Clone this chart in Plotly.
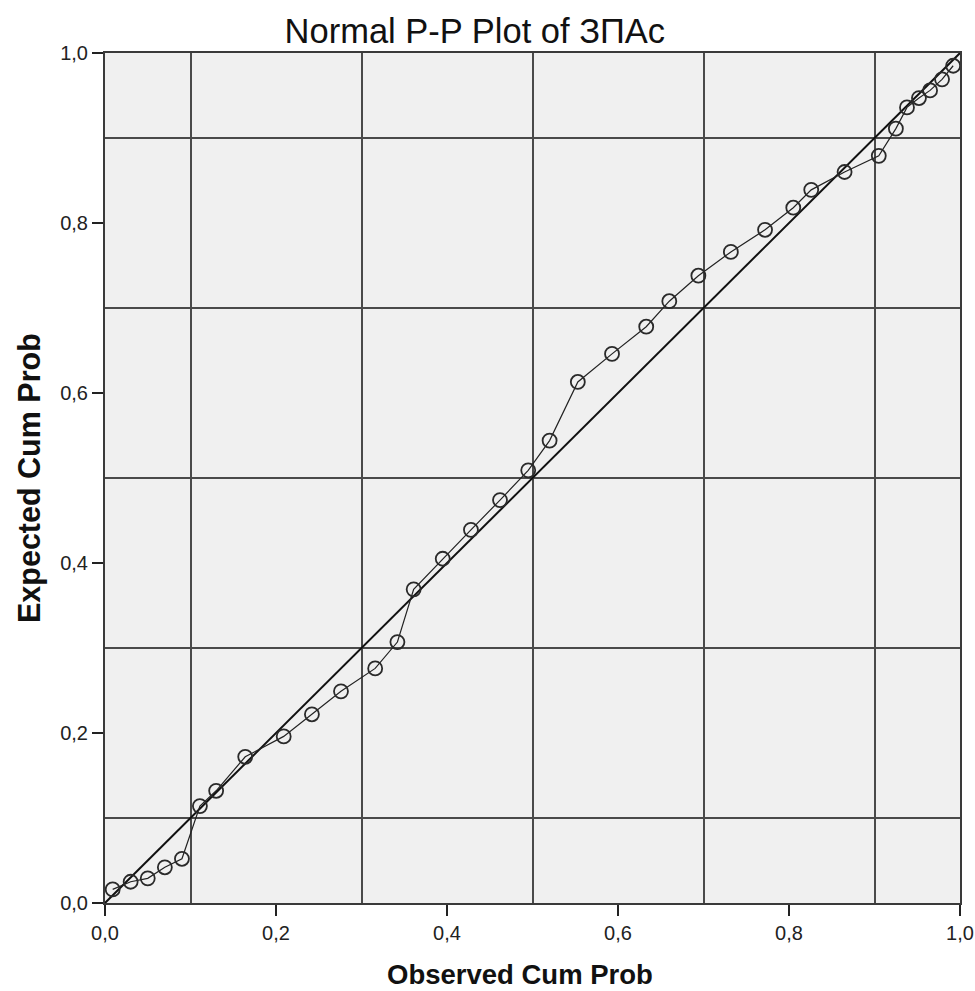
import plotly.graph_objects as go

observed = [0.009, 0.030, 0.050, 0.070, 0.090, 0.111, 0.130, 0.164, 0.209, 0.242,
            0.276, 0.316, 0.342, 0.361, 0.395, 0.428, 0.462, 0.495, 0.520, 0.553,
            0.593, 0.633, 0.660, 0.694, 0.732, 0.772, 0.805, 0.826, 0.865, 0.905,
            0.925, 0.938, 0.952, 0.965, 0.979, 0.992]
expected = [0.016, 0.025, 0.029, 0.042, 0.052, 0.114, 0.132, 0.172, 0.196, 0.222,
            0.249, 0.276, 0.307, 0.369, 0.405, 0.439, 0.474, 0.509, 0.544, 0.613,
            0.646, 0.678, 0.708, 0.738, 0.766, 0.792, 0.818, 0.839, 0.860, 0.879,
            0.911, 0.936, 0.947, 0.956, 0.969, 0.985]
ref_line = [0.0, 1.0]
tick_vals = [0.0, 0.2, 0.4, 0.6, 0.8, 1.0]

FONT = "Liberation Sans, Arial, sans-serif"

fig = go.Figure()
fig.add_trace(go.Scatter(x=ref_line, y=ref_line, mode="lines",
                         line=dict(color="#111111", width=2), hoverinfo="skip"))
fig.add_trace(go.Scatter(x=observed, y=expected, mode="lines+markers",
                         line=dict(color="#222222", width=1.2),
                         marker=dict(symbol="circle-open", size=14,
                                     color="#2a2a2a", line=dict(width=1.8))))

axis_common = dict(
    range=[0, 1], tickvals=tick_vals, tickformat=".1f",
    ticks="outside", ticklen=11, tickwidth=2, tickcolor="#222",
    showgrid=False, zeroline=False, automargin=False,
    showline=True, linecolor="#3a3a3a", linewidth=2, mirror=True,
    tickfont=dict(family=FONT, size=20, color="#222"),
    minor=dict(tick0=0.1, dtick=0.2, showgrid=True, gridcolor="#4a4a4a",
               gridwidth=2, ticks=""),
)

fig.update_layout(
    width=975, height=991,
    margin=dict(l=105, r=15, t=53, b=88, autoexpand=False),
    paper_bgcolor="white", plot_bgcolor="#f0f0f0",
    showlegend=False, separators=",.",
    font=dict(family=FONT, color="#111"),
    title=dict(text="Normal P-P Plot of ЗПАс", x=0.487, xanchor="center",
               xref="container", yref="container",
               y=1 - 31 / 991, yanchor="middle",
               font=dict(size=34.5, color="#111")),
    xaxis=dict(**axis_common),
    yaxis=dict(**axis_common),
    annotations=[
        dict(text="<b>Observed Cum Prob</b>", xref="paper", yref="paper",
             x=0.485, y=-71 / 850, xanchor="center", yanchor="middle",
             showarrow=False, font=dict(family=FONT, size=27.5, color="#111")),
        dict(text="<b>Expected Cum Prob</b>", xref="paper", yref="paper",
             x=-76 / 855, y=0.5, xanchor="center", yanchor="middle",
             textangle=-90, showarrow=False,
             font=dict(family=FONT, size=30.5, color="#111")),
    ],
)

fig.write_html("out.html",
               config={"displayModeBar": False},
               post_script="document.body.style.margin='0';")
